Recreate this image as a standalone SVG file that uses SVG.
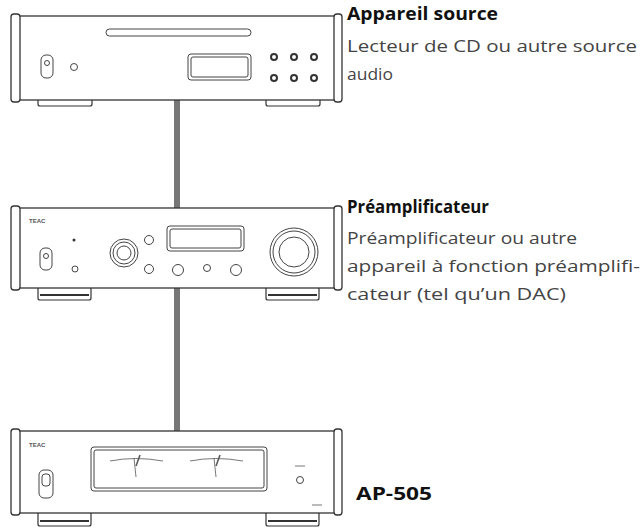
<svg xmlns="http://www.w3.org/2000/svg" width="642" height="531" viewBox="0 0 642 531">
<style>
.o{fill:#fff;stroke:#333;stroke-width:1.3}
.t{fill:none;stroke:#444;stroke-width:1}
.f{fill:#fff;stroke:#333;stroke-width:1.2}
.h{font-family:"Open Sans","Liberation Sans",sans-serif;font-weight:bold;font-size:18px;fill:#111}
.b{font-family:"Open Sans","Liberation Sans",sans-serif;font-size:17px;fill:#444}
.l{font-family:"Liberation Sans",sans-serif;font-size:6px;fill:#555;font-weight:bold}
</style>
<g id="connectors"><rect x="174" y="100" width="6" height="332" fill="#777"/></g>
<g id="source">
<rect class="f" x="38" y="98" width="54" height="8" rx="2"/><rect class="f" x="266" y="98" width="54" height="8" rx="2"/>
<rect class="o" x="12" y="16" width="326" height="84"/>
<rect class="o" x="11" y="14" width="9" height="88" rx="3"/><rect class="o" x="334" y="14" width="8" height="88" rx="3"/>
<rect class="t" x="106" y="29" width="145" height="7" rx="3.5"/>
<rect class="t" x="41" y="55" width="12" height="23" rx="5"/><circle class="t" cx="47" cy="63" r="2.5"/>
<circle class="t" cx="74" cy="67" r="3.5"/>
<rect class="t" x="188" y="54" width="63" height="26" rx="3"/><rect class="t" x="191" y="57" width="57" height="20" rx="2"/>
<g fill="none" stroke="#333" stroke-width="2"><circle cx="274" cy="57" r="3"/><circle cx="294" cy="57" r="3"/><circle cx="314" cy="57" r="3"/><circle cx="274" cy="78" r="3"/><circle cx="294" cy="78" r="3"/><circle cx="314" cy="78" r="3"/></g>
</g>
<g id="preamp">
<rect class="f" x="38" y="287" width="53" height="13" rx="2"/><rect class="f" x="266" y="287" width="53" height="13" rx="2"/>
<line x1="40" y1="295" x2="89" y2="295" stroke="#333" stroke-width="2"/><line x1="268" y1="295" x2="317" y2="295" stroke="#333" stroke-width="2"/>
<rect class="o" x="12" y="208" width="326" height="80"/>
<rect class="o" x="11" y="206" width="9" height="84" rx="3"/><rect class="o" x="334" y="206" width="8" height="84" rx="3"/>
<text class="l" x="29" y="223">TEAC</text>
<rect class="t" x="40" y="248" width="12" height="22" rx="5"/><circle class="t" cx="46" cy="256" r="2.5"/>
<circle cx="74" cy="240" r="1.5" fill="#333"/><circle class="t" cx="75" cy="269" r="3" stroke-width="1.6"/>
<circle class="t" cx="124" cy="253" r="14"/><circle class="t" cx="124" cy="253" r="11"/><circle class="t" cx="124" cy="253" r="7"/>
<circle class="t" cx="149" cy="240" r="4.5" stroke-width="1.8"/><circle class="t" cx="149" cy="269" r="4.5"/>
<circle class="t" cx="178" cy="270" r="5.5" stroke-width="1.6"/><circle class="t" cx="207" cy="268" r="3.5" stroke-width="1.8"/><circle class="t" cx="236" cy="270" r="5.5" stroke-width="1.6"/>
<rect class="t" x="167" y="226" width="77" height="25" rx="3"/><rect class="t" x="170" y="229" width="71" height="19" rx="2"/>
<circle class="t" cx="294" cy="252" r="24"/><circle class="t" cx="294" cy="252" r="21"/><circle class="t" cx="294" cy="252" r="15"/>
</g>
<g id="power">
<rect class="f" x="38" y="512" width="53" height="14" rx="2"/><rect class="f" x="266" y="512" width="53" height="14" rx="2"/>
<line x1="40" y1="521" x2="89" y2="521" stroke="#333" stroke-width="2"/><line x1="268" y1="521" x2="317" y2="521" stroke="#333" stroke-width="2"/>
<rect class="o" x="12" y="431" width="326" height="82"/>
<rect class="o" x="11" y="429" width="9" height="86" rx="3"/><rect class="o" x="334" y="429" width="8" height="86" rx="3"/>
<text class="l" x="29" y="447">TEAC</text>
<rect class="t" x="39" y="470" width="14" height="28" rx="5"/><rect class="t" x="42" y="474" width="8" height="12" rx="3"/>
<rect class="t" x="91" y="447" width="176" height="44" rx="3"/><rect class="t" x="94" y="450" width="170" height="38" rx="2"/>
<g stroke="#555" stroke-width="0.8" fill="none"><path d="M110 461 Q135 456 163 461"/><path d="M190 461 Q215 456 243 461"/><line x1="134" y1="458" x2="136" y2="477"/><line x1="214" y1="458" x2="216" y2="477"/><line x1="136" y1="466" x2="140" y2="455" stroke-width="1.5"/><line x1="216" y1="466" x2="220" y2="455" stroke-width="1.5"/></g>
<circle class="t" cx="300" cy="480" r="3.5" stroke-width="1.8"/>
<line x1="295" y1="466" x2="305" y2="466" stroke="#777"/><line x1="312" y1="505" x2="322" y2="505" stroke="#777"/>
</g>
<g id="labels">
<text class="h" x="347" y="20" textLength="151" lengthAdjust="spacingAndGlyphs">Appareil source</text>
<text class="b" x="347" y="52" textLength="290" lengthAdjust="spacingAndGlyphs">Lecteur de CD ou autre source</text>
<text class="b" x="347" y="80" textLength="46" lengthAdjust="spacingAndGlyphs">audio</text>
<text class="h" x="347" y="213" textLength="142" lengthAdjust="spacingAndGlyphs">Préamplificateur</text>
<text class="b" x="347" y="244" textLength="230" lengthAdjust="spacingAndGlyphs">Préamplificateur ou autre</text>
<text class="b" x="347" y="272" textLength="293" lengthAdjust="spacingAndGlyphs">appareil à fonction préamplifi-</text>
<text class="b" x="347" y="300" textLength="219" lengthAdjust="spacingAndGlyphs">cateur (tel qu’un DAC)</text>
<text class="h" x="356" y="500" textLength="76" lengthAdjust="spacingAndGlyphs">AP-505</text>
</g>
</svg>
